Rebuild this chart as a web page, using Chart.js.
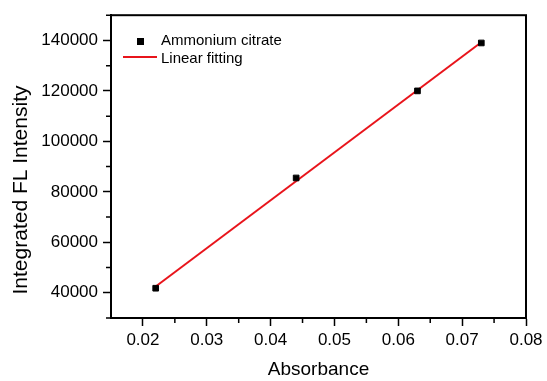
<!DOCTYPE html>
<html>
<head>
<meta charset="utf-8">
<script src="https://cdn.jsdelivr.net/npm/chart.js@4.4.1/dist/chart.umd.min.js"></script>
<style>
  html, body { margin: 0; padding: 0; background: #fff; }
  #wrap { width: 547px; height: 381px; }
</style>
</head>
<body>
<div id="wrap"><canvas id="chart"></canvas></div>
<script>
// data
const absorbance = [0.022, 0.044, 0.063, 0.073];
const intensity = [41800, 85500, 120000, 139000];
const fitX = [0.022, 0.073];
const fitY = [42500, 139300];
const xTicks = [0.02, 0.03, 0.04, 0.05, 0.06, 0.07, 0.08];
const yTicks = [40000, 60000, 80000, 100000, 120000, 140000];
const yTitle = 'Integrated FL Intensity';

const FONT = 'Liberation Sans, Arial, sans-serif';

// frame, minor ticks, y title and inset legend
const framePlugin = {
    id: 'frame',
    afterDraw(chart) {
        const ctx = chart.ctx;
        const a = chart.chartArea;
        const xs = chart.scales.x, ys = chart.scales.y;
        ctx.save();
        ctx.strokeStyle = '#000';
        ctx.lineWidth = 2;
        ctx.strokeRect(a.left, a.top, a.right - a.left, a.bottom - a.top);

        // minor ticks
        ctx.lineWidth = 1.5;
        ctx.beginPath();
        for (let i = 0; i < xTicks.length - 1; i++) {
            const px = xs.getPixelForValue((xTicks[i] + xTicks[i + 1]) / 2);
            ctx.moveTo(px, a.bottom);
            ctx.lineTo(px, a.bottom + 5);
        }
        for (let i = 0; i < yTicks.length; i++) {
            const v = yTicks[i] + 10000;
            if (v > ys.max) continue;
            const py = ys.getPixelForValue(v);
            ctx.moveTo(a.left, py);
            ctx.lineTo(a.left - 5, py);
        }
        const pyLow = ys.getPixelForValue(yTicks[0] - 10000);
        ctx.moveTo(a.left, pyLow);
        ctx.lineTo(a.left - 5, pyLow);
        ctx.stroke();

        // y axis title
        ctx.fillStyle = '#000';
        ctx.font = '21px ' + FONT;
        ctx.textAlign = 'center';
        ctx.textBaseline = 'middle';
        ctx.translate(21, 190);
        ctx.rotate(-Math.PI / 2);
        ctx.fillText(yTitle, 0, 0);
        ctx.setTransform(1, 0, 0, 1, 0, 0);

        // legend
        const ds = chart.data.datasets;
        ctx.font = '15px ' + FONT;
        ctx.textAlign = 'left';
        ctx.fillRect(137, 38, 7, 7);
        ctx.fillText(ds[0].label, 161, 41);
        ctx.strokeStyle = ds[1].borderColor;
        ctx.lineWidth = 2;
        ctx.beginPath();
        ctx.moveTo(123, 57);
        ctx.lineTo(157, 57);
        ctx.stroke();
        ctx.fillText(ds[1].label, 161, 59);
        ctx.restore();
    }
};

const ctx = document.getElementById('chart').getContext('2d');
new Chart(ctx, {
    type: 'scatter',
    data: {
        datasets: [{
            label: 'Ammonium citrate',
            data: absorbance.map((x, i) => ({ x: x, y: intensity[i] })),
            pointStyle: 'rect',
            pointRadius: 4,
            backgroundColor: '#000',
            borderColor: '#000',
            order: 0
        }, {
            label: 'Linear fitting',
            type: 'line',
            data: fitX.map((x, i) => ({ x: x, y: fitY[i] })),
            borderColor: '#e8141b',
            borderWidth: 2,
            pointRadius: 0,
            fill: false,
            order: 1
        }]
    },
    options: {
        responsive: true,
        maintainAspectRatio: false,
        animation: false,
        layout: { padding: { top: 14, right: 21, left: 0, bottom: 0 } },
        plugins: {
            legend: { display: false },
            tooltip: { enabled: false }
        },
        scales: {
            x: {
                type: 'linear',
                min: 0.015,
                max: 0.08,
                afterBuildTicks: s => { s.ticks = xTicks.map(v => ({ value: v })); },
                afterFit: s => { s.height = 63; },
                grid: { drawOnChartArea: false, drawTicks: true, tickLength: 8, tickWidth: 1.5, tickColor: '#000' },
                border: { display: true, color: '#000', width: 2 },
                ticks: {
                    color: '#000',
                    padding: 4,
                    maxRotation: 0,
                    font: { family: FONT, size: 17 },
                    callback: v => v.toFixed(2)
                },
                title: {
                    display: true,
                    text: 'Absorbance',
                    color: '#000',
                    font: { family: FONT, size: 19 },
                    padding: { top: 0, bottom: 0 }
                }
            },
            y: {
                type: 'linear',
                min: 30000,
                max: 150000,
                afterBuildTicks: s => { s.ticks = yTicks.map(v => ({ value: v })); },
                afterFit: s => { s.width = 111; },
                grid: { drawOnChartArea: false, drawTicks: true, tickLength: 8, tickWidth: 1.5, tickColor: '#000' },
                border: { display: true, color: '#000', width: 2 },
                ticks: {
                    color: '#000',
                    padding: 5,
                    font: { family: FONT, size: 17 },
                    callback: v => String(v)
                },
                title: { display: false }
            }
        }
    },
    plugins: [framePlugin]
});
</script>
</body>
</html>
